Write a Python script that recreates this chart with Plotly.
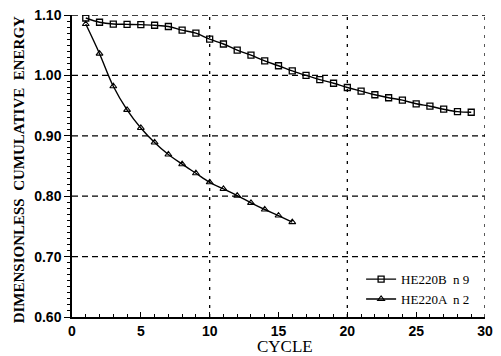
import plotly.graph_objects as go

cycles_b = list(range(1, 30))
energy_b = [1.095, 1.088, 1.085, 1.0845, 1.084, 1.083, 1.081, 1.075, 1.070, 1.060,
            1.052, 1.042, 1.0335, 1.024, 1.016, 1.0075, 1.000, 0.993, 0.987, 0.980,
            0.974, 0.968, 0.963, 0.959, 0.953, 0.949, 0.944, 0.940, 0.939]

cycles_a = list(range(1, 17))
energy_a = [1.085, 1.036, 0.982, 0.943, 0.913, 0.889, 0.869, 0.853, 0.838, 0.823,
            0.812, 0.801, 0.789, 0.778, 0.768, 0.757]

name_b = "HE220B  n 9"
name_a = "HE220A  n 2"
x_title = "CYCLE"
y_title = "DIMENSIONLESS  CUMULATIVE  ENERGY"

fig = go.Figure()
fig.add_trace(go.Scatter(x=cycles_b, y=energy_b, mode="lines+markers", name=name_b,
                         line=dict(color="black", width=1.4, shape="spline"),
                         marker=dict(symbol="square-open", size=6, color="black",
                                     line=dict(width=1.3))))
fig.add_trace(go.Scatter(x=cycles_a, y=energy_a, mode="lines+markers", name=name_a,
                         line=dict(color="black", width=1.4, shape="spline"),
                         marker=dict(symbol="triangle-up-open", size=6, color="black",
                                     line=dict(width=1.1))))

tickfont = dict(family="Liberation Sans", size=14, color="black", weight="bold")
fig.update_layout(
    width=501, height=356,
    margin=dict(l=72, r=16, t=15, b=39),
    paper_bgcolor="white", plot_bgcolor="white",
    showlegend=True,
    legend=dict(x=0.70, y=0.175, xanchor="left", yanchor="top",
                bgcolor="rgba(0,0,0,0)", borderwidth=0,
                font=dict(family="Liberation Serif", size=13, color="black"),
                itemwidth=30, tracegroupgap=0),
    xaxis=dict(range=[0, 30], tickvals=[0, 5, 10, 15, 20, 25, 30],
               ticktext=["0", "5", "10", "15", "20", "25", "30"],
               automargin=False,
               showline=True, linecolor="black", linewidth=1.5,
               ticks="inside", ticklen=5, tickcolor="black", tickwidth=1.2,
               minor=dict(dtick=1, ticks="inside", ticklen=3, tickcolor="black", showgrid=False),
               showgrid=False, zeroline=False, tickfont=tickfont),
    yaxis=dict(range=[0.6, 1.1], tickvals=[0.6, 0.7, 0.8, 0.9, 1.0, 1.1],
               ticktext=["0.60", "0.70", "0.80", "0.90", "1.00", "1.10"],
               automargin=False,
               showline=True, linecolor="black", linewidth=1.5,
               ticks="outside", ticklen=6, tickcolor="black", tickwidth=1.2,
               minor=dict(dtick=0.01, ticks="outside", ticklen=3, tickcolor="black", showgrid=False),
               showgrid=False, zeroline=False, tickfont=tickfont),
)

fig.add_annotation(text=x_title, xref="paper", yref="paper", x=0.515, y=-0.098,
                   xanchor="center", yanchor="middle", showarrow=False,
                   font=dict(family="Liberation Serif", size=17, color="black"))
fig.add_annotation(text=y_title, xref="paper", yref="paper", x=-0.128, y=0.486,
                   xanchor="center", yanchor="middle", showarrow=False, textangle=-90,
                   font=dict(family="Liberation Serif", size=15, color="black", weight="bold"))

# dashed grid lines at the labelled positions
for yv in [0.7, 0.8, 0.9, 1.0, 1.1]:
    fig.add_shape(type="line", xref="paper", x0=0, x1=1, yref="y", y0=yv, y1=yv,
                  line=dict(color="black", width=1.3, dash="6px,4px"), layer="below")
for xv in [10, 20, 30]:
    fig.add_shape(type="line", yref="paper", y0=0, y1=1, xref="x", x0=xv, x1=xv,
                  line=dict(color="black", width=1.3, dash="3px,6px"), layer="below")

fig.write_html("out.html")
